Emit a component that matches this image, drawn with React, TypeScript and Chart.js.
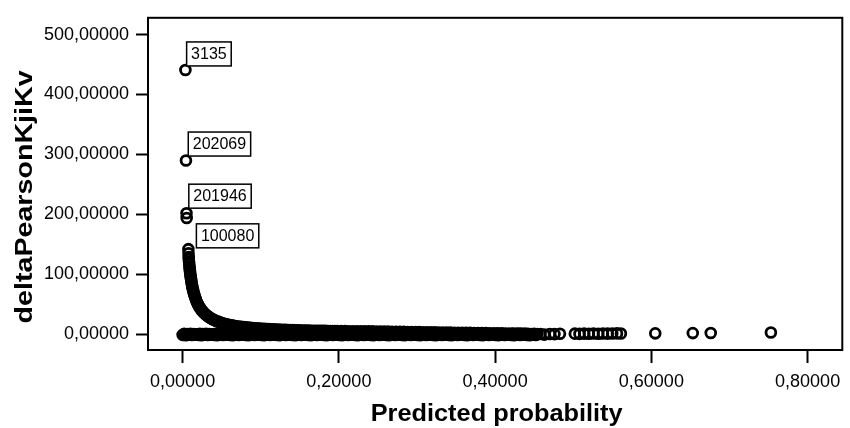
import React, { useEffect, useRef } from 'react';
import { Chart, registerables } from 'chart.js';

Chart.register(...registerables);

const FONT = '"Liberation Sans", Arial, Helvetica, sans-serif';
const X_TITLE = 'Predicted probability';
const Y_TITLE = 'deltaPearsonKjiKv';

// Tick values
const xTickValues = [0, 0.2, 0.4, 0.6, 0.8];
const yTickValues = [0, 100, 200, 300, 400, 500];

// Labelled outliers (predicted probability, delta chi-square)
const outlierP = [0.0036, 0.0043, 0.005, 0.0052, 0.0074, 0.0076, 0.0078];
const outlierV = [441, 290, 202, 194, 142, 135, 129];
const caseLabels = ['3135', '202069', '201946', '100080'];
const caseLabelPoint = [0, 1, 2, 4];

// Steep part of the curve
const steepP = [
  0.0079, 0.0082, 0.0085, 0.0088, 0.009, 0.0093, 0.0095, 0.0098, 0.0101, 0.0104,
  0.0108, 0.0111, 0.0115, 0.0119, 0.0123, 0.0128, 0.0133, 0.0139, 0.0145, 0.0152,
  0.0159, 0.0167, 0.0175, 0.0185, 0.0196, 0.0206, 0.0217, 0.023, 0.0244, 0.0256,
  0.027, 0.0286, 0.0303, 0.0323, 0.0339, 0.0357, 0.0377, 0.04, 0.0426, 0.0455,
  0.0476, 0.0505, 0.0538, 0.0571, 0.0606,
];
const steepV = [
  125, 121, 117, 113, 110, 107, 104, 101, 98, 95,
  92, 89, 86, 83, 80, 77, 74, 71, 68, 65,
  62, 59, 56, 53, 50, 47.5, 45, 42.5, 40, 38,
  36, 34, 32, 30, 28.5, 27, 25.5, 24, 22.5, 21,
  20, 18.8, 17.6, 16.5, 15.5,
];

// Bend of the curve
const bendP = [
  0.063, 0.066, 0.069, 0.072, 0.075, 0.078, 0.081, 0.084, 0.087, 0.09,
  0.093, 0.096, 0.099, 0.102, 0.105, 0.108, 0.111, 0.114, 0.117, 0.12,
  0.123, 0.126, 0.129, 0.132, 0.135, 0.138, 0.141, 0.144, 0.147, 0.15,
  0.153, 0.156, 0.159, 0.162, 0.165, 0.168, 0.171, 0.174, 0.177, 0.18,
  0.183, 0.186, 0.189, 0.192, 0.195, 0.198,
];
const bendV = [
  14.8, 14.1, 13.4, 12.8, 12.3, 11.8, 11.4, 11.0, 10.6, 10.3,
  10.0, 9.7, 9.4, 9.1, 8.9, 8.7, 8.5, 8.3, 8.1, 7.9,
  7.7, 7.5, 7.3, 7.2, 7.0, 6.9, 6.8, 6.7, 6.5, 6.4,
  6.3, 6.2, 6.1, 6.0, 5.9, 5.85, 5.8, 5.75, 5.7, 5.6,
  5.55, 5.5, 5.45, 5.4, 5.35, 5.3,
];

// Flat part of the curve
const flatP = [
  0.203, 0.208, 0.213, 0.218, 0.223, 0.228, 0.233, 0.238, 0.243, 0.248,
  0.253, 0.258, 0.263, 0.268, 0.273, 0.278, 0.283, 0.288, 0.293, 0.298,
  0.303, 0.308, 0.313, 0.318, 0.323, 0.328, 0.333, 0.338, 0.343, 0.348,
  0.353, 0.358, 0.363, 0.368, 0.373, 0.378, 0.383, 0.388, 0.393, 0.398,
  0.403, 0.408, 0.413, 0.418, 0.423, 0.428, 0.433, 0.438,
];
const flatV = [
  5.25, 5.2, 5.1, 5.05, 5.0, 4.9, 4.85, 4.8, 4.7, 4.6,
  4.5, 4.4, 4.3, 4.2, 4.1, 4.0, 3.9, 3.8, 3.7, 3.6,
  3.5, 3.4, 3.3, 3.2, 3.1, 3.0, 2.9, 2.8, 2.7, 2.6,
  2.5, 2.4, 2.3, 2.2, 2.1, 2.0, 1.9, 1.8, 1.7, 1.6,
  1.5, 1.4, 1.3, 1.25, 1.2, 1.1, 1.05, 1.0,
];

// Dense band of non-cases near zero
const bandP = [
  0, 0.002, 0.004, 0.006, 0.008, 0.01, 0.012, 0.014, 0.016, 0.018,
  0.02, 0.022, 0.024, 0.026, 0.028, 0.03, 0.032, 0.034, 0.036, 0.038,
  0.04, 0.042, 0.044, 0.046, 0.048, 0.05, 0.052, 0.054, 0.056, 0.058,
  0.06, 0.062, 0.064, 0.066, 0.068, 0.07, 0.072, 0.074, 0.076, 0.078,
  0.08, 0.082, 0.084, 0.086, 0.088, 0.09, 0.092, 0.094, 0.096, 0.098,
  0.1, 0.102, 0.104, 0.106, 0.108, 0.11, 0.112, 0.114, 0.116, 0.118,
  0.12, 0.122, 0.124, 0.126, 0.128, 0.13, 0.132, 0.134, 0.136, 0.138,
  0.14, 0.142, 0.144, 0.146, 0.148, 0.15, 0.152, 0.154, 0.156, 0.158,
  0.16, 0.162, 0.164, 0.166, 0.168, 0.17, 0.172, 0.174, 0.176, 0.178,
  0.18, 0.182, 0.184, 0.186, 0.188, 0.19, 0.192, 0.194, 0.196, 0.198,
  0.2, 0.202, 0.204, 0.206, 0.208, 0.21, 0.212, 0.214, 0.216, 0.218,
  0.22, 0.222, 0.224, 0.226, 0.228, 0.23, 0.232, 0.234, 0.236, 0.238,
  0.24, 0.242, 0.244, 0.246, 0.248, 0.25, 0.252, 0.254, 0.256, 0.258,
  0.26, 0.262, 0.264, 0.266, 0.268, 0.27, 0.272, 0.274, 0.276, 0.278,
  0.28, 0.282, 0.284, 0.286, 0.288, 0.29, 0.292, 0.294, 0.296, 0.298,
  0.3, 0.302, 0.304, 0.306, 0.308, 0.31, 0.312, 0.314, 0.316, 0.318,
  0.32, 0.322, 0.324, 0.326, 0.328, 0.33, 0.332, 0.334, 0.336, 0.338,
  0.34, 0.342, 0.344, 0.346, 0.348, 0.35, 0.352, 0.354, 0.356, 0.358,
  0.36, 0.362, 0.364, 0.366, 0.368, 0.37, 0.372, 0.374, 0.376, 0.378,
  0.38, 0.382, 0.384, 0.386, 0.388, 0.39, 0.392, 0.394, 0.396, 0.398,
  0.4, 0.402, 0.404, 0.406, 0.408, 0.41, 0.412, 0.414, 0.416, 0.418,
  0.42, 0.422, 0.424, 0.426, 0.428, 0.43, 0.432, 0.434, 0.436, 0.438,
  0.44, 0.442, 0.444, 0.446, 0.448, 0.45, 0.452, 0.454,
];
const bandV = [
  -1.0, 0.6, -1.6, 0.2, -0.4, 0.9, -1.3, 0.4, -0.7, 0.0,
  -1.0, 0.6, -1.6, 0.2, -0.4, 0.9, -1.3, 0.4, -0.7, 0.0,
  -1.0, 0.6, -1.6, 0.2, -0.4, 0.9, -1.3, 0.4, -0.7, 0.0,
  -1.0, 0.6, -1.6, 0.2, -0.4, 0.9, -1.3, 0.4, -0.7, 0.0,
  -1.0, 0.6, -1.6, 0.2, -0.4, 0.9, -1.3, 0.4, -0.7, 0.0,
  -1.0, 0.6, -1.6, 0.2, -0.4, 0.9, -1.3, 0.4, -0.7, 0.0,
  -1.0, 0.6, -1.6, 0.2, -0.4, 0.9, -1.3, 0.4, -0.7, 0.0,
  -1.0, 0.6, -1.6, 0.2, -0.4, 0.9, -1.3, 0.4, -0.7, 0.0,
  -1.0, 0.6, -1.6, 0.2, -0.4, 0.9, -1.3, 0.4, -0.7, 0.0,
  -1.0, 0.6, -1.6, 0.2, -0.4, 0.9, -1.3, 0.4, -0.7, 0.0,
  -1.0, 0.6, -1.6, 0.2, -0.4, 0.9, -1.3, 0.4, -0.7, 0.0,
  -1.0, 0.6, -1.6, 0.2, -0.4, 0.9, -1.3, 0.4, -0.7, 0.0,
  -1.0, 0.6, -1.6, 0.2, -0.4, 0.9, -1.3, 0.4, -0.7, 0.0,
  -1.0, 0.6, -1.6, 0.2, -0.4, 0.9, -1.3, 0.4, -0.7, 0.0,
  -1.0, 0.6, -1.6, 0.2, -0.4, 0.9, -1.3, 0.4, -0.7, 0.0,
  -1.0, 0.6, -1.6, 0.2, -0.4, 0.9, -1.3, 0.4, -0.7, 0.0,
  -1.0, 0.6, -1.6, 0.2, -0.4, 0.9, -1.3, 0.4, -0.7, 0.0,
  -1.0, 0.6, -1.6, 0.2, -0.4, 0.9, -1.3, 0.4, -0.7, 0.0,
  -1.0, 0.6, -1.6, 0.2, -0.4, 0.9, -1.3, 0.4, -0.7, 0.0,
  -1.0, 0.6, -1.6, 0.2, -0.4, 0.9, -1.3, 0.4, -0.7, 0.0,
  -1.0, 0.6, -1.6, 0.2, -0.4, 0.9, -1.3, 0.4, -0.7, 0.0,
  -1.0, 0.6, -1.6, 0.2, -0.4, 0.9, -1.3, 0.4, -0.7, 0.0,
  -1.0, 0.6, -1.6, 0.2, -0.4, 0.9, -1.3, 0.4,
];

// Sparse points at the right end
const tailP = [0.458, 0.463, 0.47, 0.476, 0.483, 0.502, 0.508, 0.514, 0.52, 0.526, 0.532, 0.538, 0.544, 0.55, 0.556, 0.561, 0.605, 0.653, 0.676, 0.753];
const tailV = [0.4, -0.6, 0.5, 0.2, 0.9, 1.0, 0.6, 1.1, 0.8, 1.2, 0.9, 1.3, 1.0, 1.2, 1.4, 1.3, 1.5, 1.9, 2.0, 3.0];

const fmt = (v: number) => v.toFixed(5).replace('.', ',');
const toPts = (xs: number[], ys: number[]) => xs.map((x, i) => ({ x, y: ys[i] }));

// Style for label boxes: offset of box bottom-left from the point centre
const labelOffsets = [
  [1.2, -4],
  [2.3, -4.4],
  [2.3, -5],
  [8, -1.3],
];

const framePlugin = {
  id: 'frame',
  beforeDatasetsDraw(chart: any) {
    const { ctx, chartArea: a } = chart;
    ctx.save();
    ctx.strokeStyle = '#000';
    ctx.lineWidth = 2;
    ctx.strokeRect(a.left, a.top, a.right - a.left, a.bottom - a.top);
    ctx.restore();
  },
};

const titlePlugin = {
  id: 'titles',
  afterDraw(chart: any) {
    const { ctx, chartArea: a } = chart;
    ctx.save();
    ctx.fillStyle = '#000';
    ctx.font = `bold 24px ${FONT}`;
    ctx.textAlign = 'center';
    ctx.textBaseline = 'alphabetic';
    const xw = ctx.measureText(X_TITLE).width;
    ctx.translate((a.left + a.right) / 2 + 1.5, a.bottom + 71);
    ctx.scale(252 / xw, 1);
    ctx.fillText(X_TITLE, 0, 0);
    ctx.restore();

    ctx.save();
    ctx.fillStyle = '#000';
    ctx.font = `bold 24px ${FONT}`;
    ctx.textAlign = 'center';
    ctx.textBaseline = 'alphabetic';
    const yw = ctx.measureText(Y_TITLE).width;
    ctx.translate(a.left - 116, (a.top + a.bottom) / 2 + 13);
    ctx.rotate(-Math.PI / 2);
    ctx.scale(253 / yw, 1);
    ctx.fillText(Y_TITLE, 0, 0);
    ctx.restore();
  },
};

const caseLabelPlugin = {
  id: 'caseLabels',
  afterDatasetsDraw(chart: any) {
    const { ctx } = chart;
    const meta = chart.getDatasetMeta(0);
    ctx.save();
    ctx.font = `16px ${FONT}`;
    ctx.textBaseline = 'middle';
    ctx.textAlign = 'left';
    caseLabels.forEach((txt, i) => {
      const el = meta.data[caseLabelPoint[i]];
      if (!el) return;
      const [dx, dy] = labelOffsets[i];
      const tw = ctx.measureText(txt).width;
      const w = tw + 9;
      const h = 24;
      const left = el.x + dx;
      const bottom = el.y + dy;
      ctx.fillStyle = '#fff';
      ctx.fillRect(left, bottom - h, w, h);
      ctx.strokeStyle = '#000';
      ctx.lineWidth = 1.5;
      ctx.strokeRect(left, bottom - h, w, h);
      ctx.fillStyle = '#000';
      ctx.fillText(txt, left + 4.5, bottom - h / 2 + 0.5);
    });
    ctx.restore();
  },
};

export default function App() {
  const ref = useRef<HTMLCanvasElement | null>(null);

  useEffect(() => {
    if (!ref.current) return;
    const pointStyle = {
      pointStyle: 'circle',
      pointRadius: 4.9,
      pointBorderWidth: 2.8,
      pointBorderColor: '#000',
      pointBackgroundColor: 'rgba(0,0,0,0)',
      showLine: false,
    };
    const chart = new Chart(ref.current, {
      type: 'scatter',
      data: {
        datasets: [
          { label: 'outliers', data: toPts(outlierP, outlierV), ...pointStyle },
          { label: 'steep', data: toPts(steepP, steepV), ...pointStyle },
          { label: 'bend', data: toPts(bendP, bendV), ...pointStyle },
          { label: 'flat', data: toPts(flatP, flatV), ...pointStyle },
          { label: 'band', data: toPts(bandP, bandV), ...pointStyle },
          { label: 'tail', data: toPts(tailP, tailV), ...pointStyle },
        ],
      },
      options: {
        animation: false,
        responsive: false,
        events: [],
        layout: { padding: { top: 13, right: 3, left: 0, bottom: 0 } },
        plugins: { legend: { display: false }, tooltip: { enabled: false } },
        scales: {
          x: {
            type: 'linear',
            min: -0.0443,
            max: 0.8444,
            afterBuildTicks: (s: any) => {
              s.ticks = xTickValues.map((v) => ({ value: v }));
            },
            afterFit: (s: any) => {
              s.height = 78;
            },
            ticks: {
              callback: (v: any) => fmt(Number(v)),
              font: { size: 18, family: FONT },
              color: '#000',
              padding: 8,
              maxRotation: 0,
              autoSkip: false,
            },
            grid: {
              display: true,
              drawOnChartArea: false,
              drawTicks: true,
              tickLength: 13,
              tickWidth: 2,
              tickColor: '#000',
              color: '#000',
            },
            border: { display: false },
          },
          y: {
            type: 'linear',
            min: -26.3,
            max: 528,
            afterBuildTicks: (s: any) => {
              s.ticks = yTickValues.map((v) => ({ value: v }));
            },
            afterFit: (s: any) => {
              s.width = 148;
            },
            ticks: {
              callback: (v: any) => fmt(Number(v)),
              font: { size: 18, family: FONT },
              color: '#000',
              padding: 7,
              autoSkip: false,
            },
            grid: {
              display: true,
              drawOnChartArea: false,
              drawTicks: true,
              tickLength: 12,
              tickWidth: 2,
              tickColor: '#000',
              color: '#000',
            },
            border: { display: false },
          },
        },
      },
      plugins: [framePlugin, caseLabelPlugin, titlePlugin],
    } as any);
    return () => chart.destroy();
  }, []);

  return (
    <div style={{ position: 'fixed', left: 0, top: 0, width: 850, height: 428, background: '#fff' }}>
      <canvas ref={ref} width={850} height={428} style={{ display: 'block', width: 850, height: 428 }} />
    </div>
  );
}
